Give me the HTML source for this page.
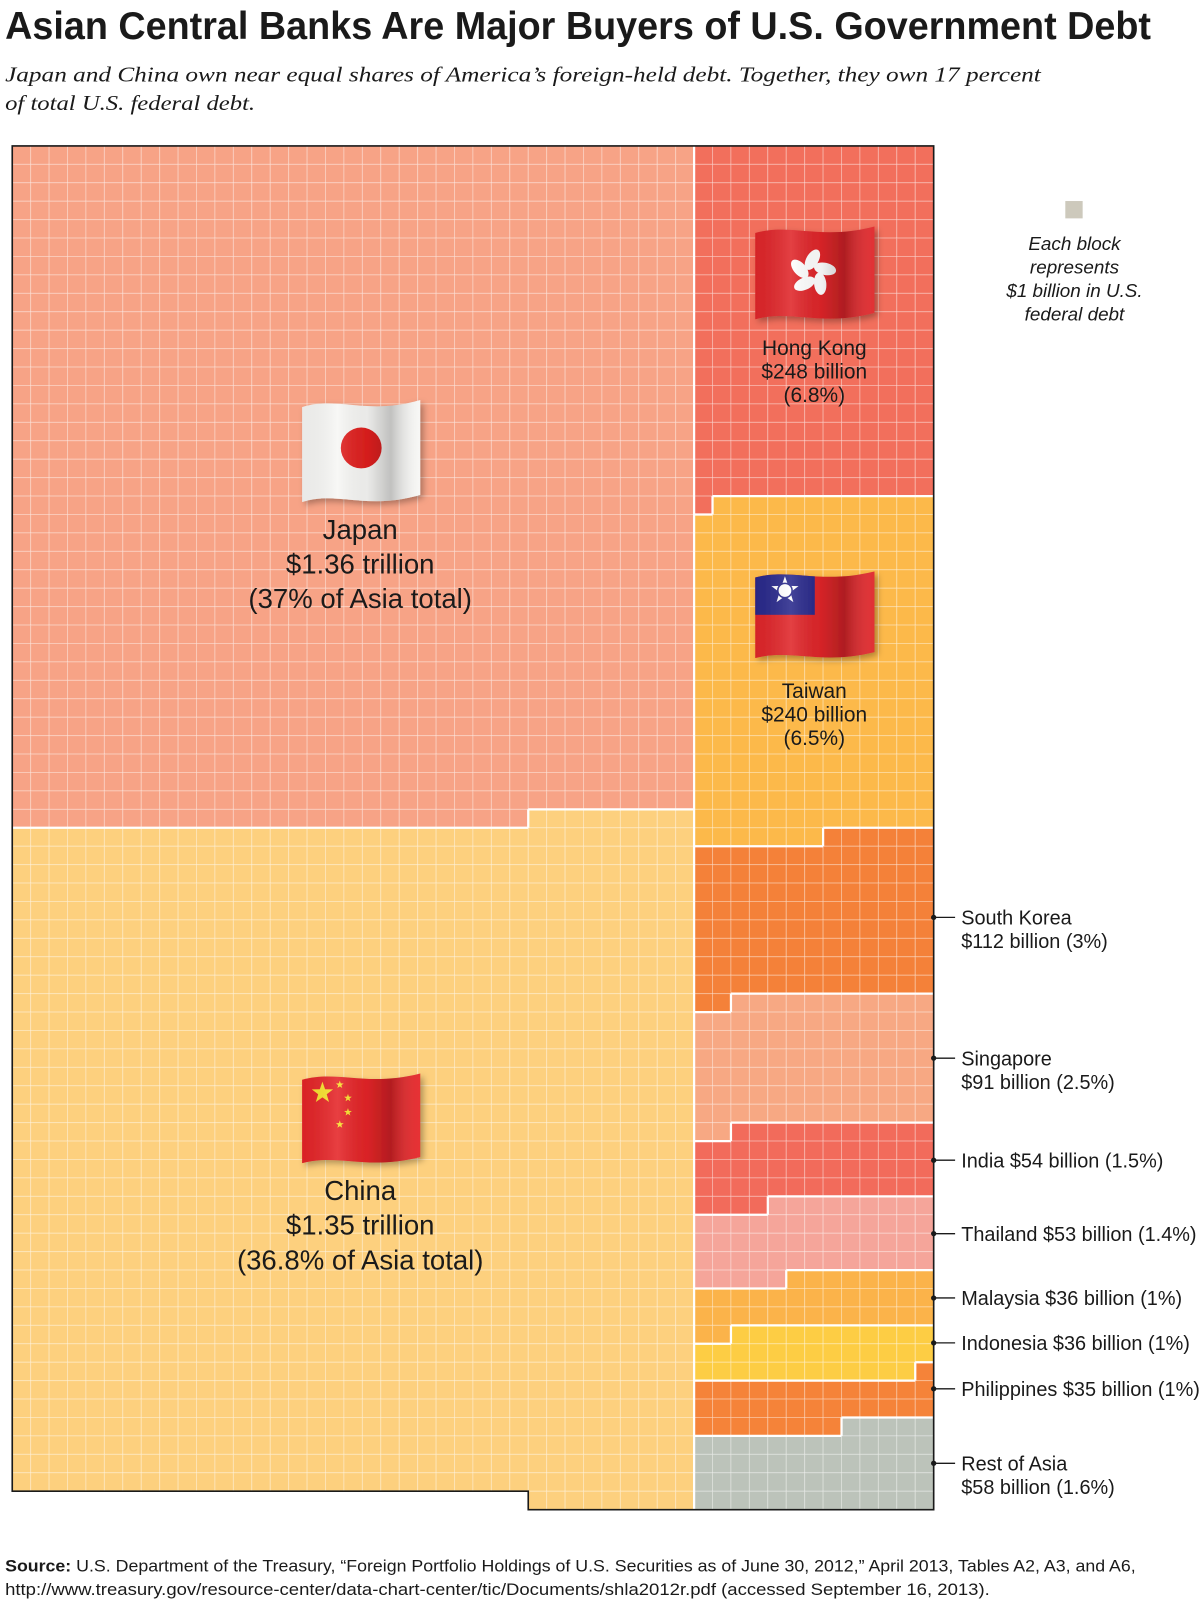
<!DOCTYPE html>
<html><head><meta charset="utf-8"><style>
html,body{margin:0;padding:0;background:#fff;}
svg{display:block;}
text{font-family:"Liberation Sans",sans-serif;fill:#1a1a1a;}
</style></head><body>
<svg id="chart" width="1200" height="1599" viewBox="0 0 1176 1567" xmlns="http://www.w3.org/2000/svg">
<defs>
<linearGradient id="shade" x1="0" y1="0" x2="1" y2="0">
<stop offset="0" stop-color="#000" stop-opacity="0.05"/>
<stop offset="0.3" stop-color="#fff" stop-opacity="0.12"/>
<stop offset="0.55" stop-color="#000" stop-opacity="0.05"/>
<stop offset="0.75" stop-color="#000" stop-opacity="0.22"/>
<stop offset="1" stop-color="#fff" stop-opacity="0.05"/>
</linearGradient>
<filter id="fs" x="-10%" y="-10%" width="130%" height="130%"><feDropShadow dx="3" dy="3" stdDeviation="3" flood-opacity="0.3"/></filter>
</defs>
<text x="5" y="38" font-size="38" font-weight="bold" textLength="1123" lengthAdjust="spacingAndGlyphs">Asian Central Banks Are Major Buyers of U.S. Government Debt</text>
<text x="5" y="80" font-size="21" font-style="italic" style="font-family:'Liberation Serif',serif" textLength="1015" lengthAdjust="spacingAndGlyphs">Japan and China own near equal shares of America’s foreign-held debt. Together, they own 17 percent</text>
<text x="5" y="108" font-size="21" font-style="italic" style="font-family:'Liberation Serif',serif" textLength="245" lengthAdjust="spacingAndGlyphs">of total U.S. federal debt.</text>
<g id="grid"></g>
<g id="flags"></g>
<g>
<rect x="1044" y="197" width="17" height="17" fill="#cdc9bc"/>
<g font-size="18.5" font-style="italic" text-anchor="middle">
<text x="1053" y="245">Each block</text><text x="1053" y="268">represents</text><text x="1053" y="291">$1 billion in U.S.</text><text x="1053" y="314">federal debt</text>
</g></g>
<g text-anchor="middle">
<g font-size="27"><text x="353" y="528">Japan</text><text x="353" y="562">$1.36 trillion</text><text x="353" y="596">(37% of Asia total)</text>
<text x="353" y="1176">China</text><text x="353" y="1210">$1.35 trillion</text><text x="353" y="1244">(36.8% of Asia total)</text></g>
<g font-size="20.5"><text x="798" y="348">Hong Kong</text><text x="798" y="371">$248 billion</text><text x="798" y="394">(6.8%)</text>
<text x="798" y="684">Taiwan</text><text x="798" y="707">$240 billion</text><text x="798" y="730">(6.5%)</text></g>
</g>
<g id="callouts" font-size="19.5"></g>
<text x="5" y="1540" font-size="16.5" textLength="1108" lengthAdjust="spacingAndGlyphs"><tspan font-weight="bold">Source:</tspan> U.S. Department of the Treasury, “Foreign Portfolio Holdings of U.S. Securities as of June 30, 2012,” April 2013, Tables A2, A3, and A6,</text>
<text x="5" y="1563" font-size="16.5" textLength="965" lengthAdjust="spacingAndGlyphs">http://www.treasury.gov/resource-center/data-chart-center/tic/Documents/shla2012r.pdf (accessed September 16, 2013).</text>
</svg>
<script>
const leftNames = ['Japan','China'];
const leftValues = [1360,1350];
const leftColors = ['#f7a386','#fdd07e'];
const rightNames = ['Hong Kong','Taiwan','South Korea','Singapore','India','Thailand','Malaysia','Indonesia','Philippines','Rest of Asia'];
const rightValues = [248,240,112,91,54,53,36,36,35,58];
const rightColors = ['#f26f5c','#fcb94a','#f48139','#f7a883','#f26b5b','#f5a59a','#fbb34a','#fdcd44','#f58339','#bcc3ba'];
const calloutLines = [['South Korea','$112 billion (3%)'],['Singapore','$91 billion (2.5%)'],['India $54 billion (1.5%)'],['Thailand $53 billion (1.4%)'],['Malaysia $36 billion (1%)'],['Indonesia $36 billion  (1%)'],['Philippines $35 billion (1%)'],['Rest of Asia','$58 billion (1.6%)']];

const NS='http://www.w3.org/2000/svg';
const X0=12, Y0=143, C=(915-12)/50, ROWS=74, LC=37, RC=13;
const grid=[]; for(let r=0;r<ROWS;r++){grid.push(new Array(50).fill(-1));}
(function(){
  const total=leftValues.reduce((a,b)=>a+b,0);
  const full=Math.floor(total/LC), rem=total-full*LC;
  let k=0;
  leftValues.forEach((v,i)=>{for(let j=0;j<v;j++){
    let r=Math.floor(k/LC), c=k%LC;
    if(r===full) c=LC-rem+c;
    if(r<ROWS) grid[r][c]=i; k++;}});
})();
(function(){
  let k=0;
  rightValues.forEach((v,i)=>{for(let j=0;j<v;j++){
    const r=Math.floor(k/RC), c=k%RC;
    if(r<ROWS) grid[r][LC+c]=10+i; k++;}});
})();
const color=id=> id>=10?rightColors[id-10]:leftColors[id];
const g=document.getElementById('grid');
function mk(tag,attrs,parent){const e=document.createElementNS(NS,tag);for(const k in attrs)e.setAttribute(k,attrs[k]);(parent||g).appendChild(e);return e;}
for(let r=0;r<ROWS;r++)for(let c=0;c<50;c++){
  const id=grid[r][c]; if(id<0)continue;
  const el=mk('rect',{x:X0+c*C,y:Y0+r*C,width:C,height:C,fill:color(id),stroke:'rgba(255,255,255,0.3)','stroke-width':1});
  
  
}
let white='', black='';
const at=(r,c)=>(r<0||r>=ROWS||c<0||c>=50)?-1:grid[r][c];
for(let r=0;r<ROWS;r++)for(let c=0;c<50;c++){
  const id=grid[r][c]; if(id<0)continue;
  const x=X0+c*C,y=Y0+r*C;
  const n=[[at(r-1,c),`M${x} ${y}h${C}`],[at(r+1,c),`M${x} ${y+C}h${C}`],[at(r,c-1),`M${x} ${y}v${C}`],[at(r,c+1),`M${x+C} ${y}v${C}`]];
  n.forEach(([o,d])=>{ if(o<0) black+=d; else if(o!==id) white+=d; });
}
const wp=mk('path',{d:white,stroke:'#fff','stroke-width':2.2,fill:'none'});


const bp=mk('path',{d:black,stroke:'#1a1a1a','stroke-width':1.6,fill:'none','stroke-linecap':'square'});



const co=document.getElementById('callouts');
const calloutStart=2;
const manualY=[899,1037,1137,1209,1272,1316,1361,1434];
calloutLines.forEach((lines,i)=>{
  const y=manualY[i];
  const grp=mk('g',{},co);
  
  
  mk('line',{x1:915,y1:y,x2:936,y2:y,stroke:'#1a1a1a','stroke-width':1.3},grp);
  mk('circle',{cx:915,cy:y,r:2.6,fill:'#1a1a1a'},grp);
  lines.forEach((t,j)=>{const tx=mk('text',{x:942,y:y+7+j*23},grp);tx.textContent=t;});
});

const fg=document.getElementById('flags');
function flag(name,x,y,w,h,drawFn){
  const grp=mk('g',{filter:'url(#fs)'},fg);
  
  
  const a=h*0.07;
  const d=`M${x} ${y+a} C${x+w*0.3} ${y-a*0.6},${x+w*0.55} ${y+a*2.2},${x+w} ${y} L${x+w} ${y+h-a} C${x+w*0.55} ${y+h+a*1.2},${x+w*0.3} ${y+h-a*1.6},${x} ${y+h} Z`;
  const cid='c'+name;
  const cp=mk('clipPath',{id:cid},fg); mk('path',{d},cp);
  const inner=mk('g',{'clip-path':`url(#${cid})`},grp);
  drawFn(inner,x,y,w,h);
  mk('rect',{x,y:y-10,width:w,height:h+20,fill:'url(#shade)'},inner);
}
function star(p,cx,cy,r,fill){let d='';for(let i=0;i<10;i++){const rr=i%2?r*0.4:r;const a=-Math.PI/2+i*Math.PI/5;d+=(i?'L':'M')+(cx+rr*Math.cos(a))+' '+(cy+rr*Math.sin(a));}mk('path',{d:d+'Z',fill},p);}
flag('japan-flag',296,392,116,100,(p,x,y,w,h)=>{mk('rect',{x,y:y-10,width:w,height:h+20,fill:'#f7f7f5'},p);mk('circle',{cx:x+w*0.5,cy:y+h*0.47,r:h*0.2,fill:'#e0201f'},p);});
flag('china-flag',296,1052,116,88,(p,x,y,w,h)=>{mk('rect',{x,y:y-10,width:w,height:h+20,fill:'#e52528'},p);star(p,x+20,y+19,11,'#f7e12c');[[37,8],[45,21],[45,35],[37,47]].forEach(s=>star(p,x+s[0],y+s[1]+3,4,'#f7e12c'));});
flag('hong-kong-flag',740,222,117,91,(p,x,y,w,h)=>{mk('rect',{x,y:y-10,width:w,height:h+20,fill:'#e0262a'},p);const cx=x+w*0.48,cy=y+h*0.5;for(let i=0;i<5;i++){const a=i*72-90;const rad=a*Math.PI/180;mk('ellipse',{cx:cx+13*Math.cos(rad),cy:cy+13*Math.sin(rad),rx:11,ry:6,fill:'#fff',transform:`rotate(${a+30} ${cx+13*Math.cos(rad)} ${cy+13*Math.sin(rad)})`},p);}});
flag('taiwan-flag',740,560,117,85,(p,x,y,w,h)=>{mk('rect',{x,y:y-10,width:w,height:h+20,fill:'#e0262a'},p);mk('rect',{x,y:y-10,width:w*0.5,height:h*0.5+10,fill:'#2a2a8c'},p);star(p,x+w*0.25,y+h*0.22,14,'#fff');mk('circle',{cx:x+w*0.25,cy:y+h*0.22,r:7,fill:'#fff',stroke:'#2a2a8c','stroke-width':1.5},p);});
</script>
</body></html>
